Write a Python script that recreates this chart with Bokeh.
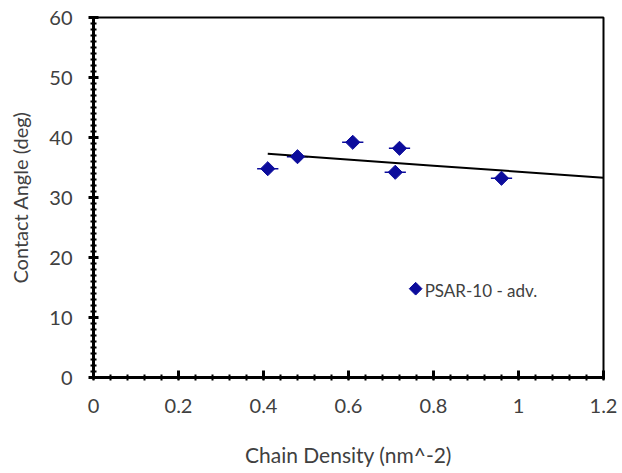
import math
from bokeh.plotting import figure
from bokeh.models import (ColumnDataSource, SingleIntervalTicker, FixedTicker, NumeralTickFormatter,
                          Whisker, Range1d, Label)
from bokeh.embed import file_html
from bokeh.resources import INLINE

# ---- data ----
chain_density = [0.41, 0.48, 0.61, 0.71, 0.72, 0.96]
contact_angle = [34.8, 36.8, 39.2, 34.2, 38.2, 33.2]
density_err = [0.025, 0.025, 0.025, 0.025, 0.025, 0.025]
trend_x = [0.41, 0.80, 1.20]
trend_y = [37.3, 35.3, 33.3]
x_ticks = [0, 0.2, 0.4, 0.6, 0.8, 1.0, 1.2]
series_name = "PSAR-10 - adv."
x_label = "Chain Density (nm^-2)"
y_label = "Contact Angle (deg)"
legend_pos = (0.758, 14.8)   # legend marker position (data units)

FONT = "Lato"
TXT = "#404040"
BLUE = "#0c0c9c"

p = figure(width=622, height=473, output_backend="svg", toolbar_location=None,
           x_range=Range1d(0, 1.2), y_range=Range1d(0, 60),
           min_border_left=93, min_border_right=19, min_border_top=17, min_border_bottom=96)
p.grid.visible = False
p.outline_line_color = "black"
p.outline_line_width = 2
p.background_fill_color = "white"
p.border_fill_color = "white"

src = ColumnDataSource(dict(x=chain_density, y=contact_angle,
                            lo=[a - b for a, b in zip(chain_density, density_err)],
                            hi=[a + b for a, b in zip(chain_density, density_err)]))

p.add_layout(Whisker(source=src, base="y", lower="lo", upper="hi", dimension="width",
                     line_color=BLUE, line_width=1.5,
                     lower_head=None, upper_head=None))

p.line(trend_x, trend_y, line_color="black", line_width=2)
p.scatter("x", "y", source=src, marker="square", angle=math.pi / 4, size=10,
          fill_color=BLUE, line_color=BLUE)

# legend (marker + text, no frame, as in the reference)
p.scatter([legend_pos[0]], [legend_pos[1]], marker="square", angle=math.pi / 4, size=9,
          fill_color=BLUE, line_color=BLUE)
p.add_layout(Label(x=legend_pos[0], y=legend_pos[1], x_offset=9, y_offset=-2,
                   text=series_name, text_font=FONT, text_font_size="17px",
                   text_color=TXT, text_baseline="middle", text_align="left"))

# axes
p.xaxis.ticker = FixedTicker(ticks=x_ticks, minor_ticks=[round(i * 0.04, 2) for i in range(31)])
p.yaxis.ticker = SingleIntervalTicker(interval=10, num_minor_ticks=10)
p.xaxis.formatter = NumeralTickFormatter(format="0.[0]")
for ax in (p.xaxis[0], p.yaxis[0]):
    ax.axis_line_width = 3
    ax.axis_line_color = "black"
    ax.major_tick_line_width = 3
    ax.minor_tick_line_width = 2
    ax.major_tick_line_color = "black"
    ax.minor_tick_line_color = "black"
    ax.major_label_text_font = FONT
    ax.major_label_text_font_size = "20px"
    ax.major_label_text_color = TXT
    ax.axis_label_text_font = FONT
    ax.axis_label_text_font_style = "normal"
    ax.axis_label_text_color = TXT

p.xaxis.axis_label = x_label
p.yaxis.axis_label = y_label
p.xaxis.axis_label_text_font_size = "21px"
p.yaxis.axis_label_text_font_size = "20px"
p.yaxis.major_tick_in = 5
p.yaxis.major_tick_out = 5
p.yaxis.minor_tick_in = 3
p.yaxis.minor_tick_out = 3
p.yaxis.major_label_standoff = 16
p.yaxis.axis_label_standoff = 14
p.xaxis.major_tick_in = 7
p.xaxis.major_tick_out = 2
p.xaxis.minor_tick_in = 3
p.xaxis.minor_tick_out = 3
p.xaxis.major_label_standoff = 18
p.xaxis.axis_label_standoff = 26

open("out.html", "w").write(file_html(p, INLINE))
